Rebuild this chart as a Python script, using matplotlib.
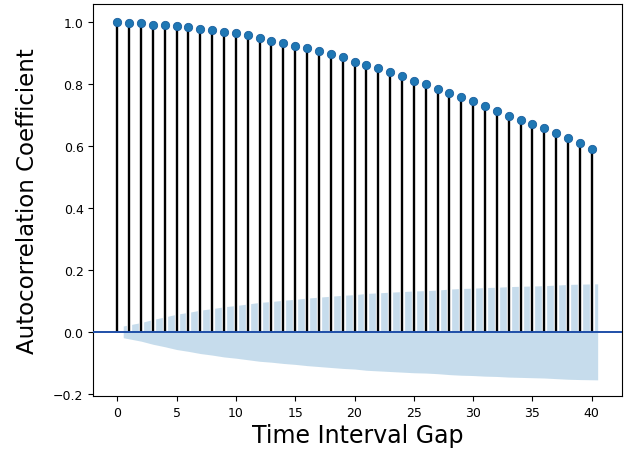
import matplotlib
matplotlib.use("Agg")
import matplotlib.pyplot as plt
import matplotlib.patheffects as pe
import numpy as np

# lags 0..40 e valores de autocorrelacao
lags = list(range(41))
acf = [1.000, 0.997, 0.997, 0.990, 0.990, 0.987, 0.985, 0.977, 0.974, 0.967,
       0.964, 0.958, 0.947, 0.939, 0.933, 0.923, 0.915, 0.905, 0.896, 0.886,
       0.871, 0.860, 0.850, 0.837, 0.826, 0.811, 0.799, 0.785, 0.772, 0.757,
       0.744, 0.729, 0.713, 0.698, 0.685, 0.671, 0.657, 0.641, 0.625, 0.609,
       0.589]

# intervalo de confianca (lags 1..40), simetrico em torno de zero
band_lags = list(range(1, 41))
band = [0.019, 0.030, 0.040, 0.048, 0.057, 0.063, 0.070, 0.075, 0.081, 0.085,
        0.090, 0.095, 0.098, 0.102, 0.105, 0.109, 0.112, 0.115, 0.118, 0.120,
        0.124, 0.126, 0.128, 0.130, 0.132, 0.133, 0.135, 0.138, 0.140, 0.141,
        0.143, 0.144, 0.146, 0.147, 0.148, 0.149, 0.151, 0.153, 0.154, 0.155]

xticks = [0, 5, 10, 15, 20, 25, 30, 35, 40]
yticks = [-0.2, 0.0, 0.2, 0.4, 0.6, 0.8, 1.0]

fig = plt.figure(figsize=(6.24, 4.56), dpi=100)
ax = fig.add_axes([0.1495, 0.1294, 0.8468, 0.8596])

# faixa de confianca (como no statsmodels: extremos deslocados 0.5)
bx = np.array(band_lags, dtype=float)
bx[0] -= 0.5
bx[-1] += 0.5
bb = np.array(band)
ax.fill_between(bx, -bb, bb, color='#1f77b4', alpha=0.25, linewidth=0, zorder=1)

# hastes
ax.vlines(lags, 0, acf, colors='black', linewidth=1.7, zorder=2,
          path_effects=[pe.withStroke(linewidth=3.8, foreground='white')])
ax.axhline(0, color='#1f4fa8', linewidth=1.4, zorder=3)
ax.plot(lags, acf, linestyle='None', marker='o', markersize=6,
        color='#1f77b4', markeredgecolor='#1a5f9e', markeredgewidth=0.6, zorder=4)

ax.set_xlim(-2.025, 42.525)
ax.set_ylim(-0.207, 1.058)
ax.set_xticks(xticks)
ax.set_yticks(yticks)
ax.set_yticklabels([f"{v:.1f}".replace("-", "\u2212") for v in yticks])
ax.tick_params(labelsize=9)

ax.set_xlabel("Time Interval Gap", fontsize=17, labelpad=3)
ax.set_ylabel("Autocorrelation Coefficient", fontsize=16.5)
ax.yaxis.set_label_coords(-0.102, 0.5)

fig.savefig("out.png", dpi=100)
